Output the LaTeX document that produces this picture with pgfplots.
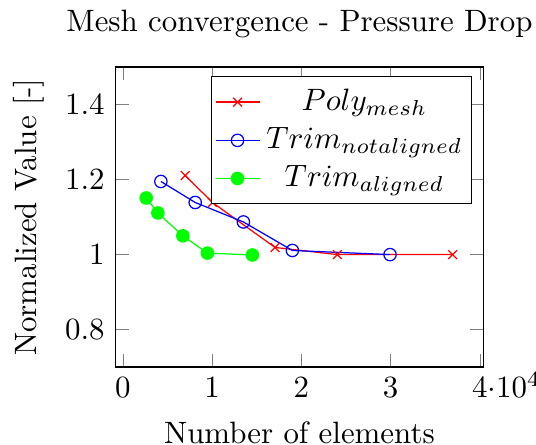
\documentclass[border=0pt]{standalone}
\usepackage{pgfplots}
\pgfplotsset{compat=1.18}
\begin{document}
\begin{tikzpicture}
\begin{axis}[
  scale only axis,
  width=119pt, height=97.1pt,
  title={Mesh convergence - Pressure Drop},
  xlabel={Number of elements},
  ylabel={Normalized Value [-]},
  xmin=-820, xmax=40380,
  ymin=0.7, ymax=1.5,
  ytick={0.8,1,1.2,1.4},
  xtick={0,10000,20000,30000,40000},
  scaled x ticks=false,
  xticklabels={$0$,$1$,$2$,$3$,{$4$\rlap{$\cdot10^{4}$}}},
  xticklabel style={text height=6.44pt, text depth=0pt},
  xlabel style={yshift=-0.7pt},
  legend pos=north east,
  legend cell align=center,
  legend style={inner xsep=1pt},
  legend image code/.code={\draw[mark repeat=2,mark phase=2] plot coordinates {(0cm,0cm) (0.25cm,0cm) (0.5cm,0cm)};},
]
\addplot[red, mark=x] coordinates {
 (6980,1.211) (10030,1.139) (17050,1.019) (24030,1.0) (36950,1.0)
};
\addlegendentry{$Poly_{mesh}$}
\addplot[blue, mark=o] coordinates {
 (4255,1.195) (8100,1.139) (13500,1.087) (18990,1.011) (29930,1.0)
};
\addlegendentry{$Trim_{notaligned}$}
\addplot[green, mark=*] coordinates {
 (2610,1.151) (3920,1.111) (6720,1.050) (9470,1.004) (14510,0.999)
};
\addlegendentry{$Trim_{aligned}$}
\end{axis}
\pgfresetboundingbox
\useasboundingbox ([xshift=-37.4pt,yshift=-25.2pt]current axis.south west) rectangle ([xshift=17.05pt,yshift=21.7pt]current axis.north east);
\end{tikzpicture}
\end{document}
